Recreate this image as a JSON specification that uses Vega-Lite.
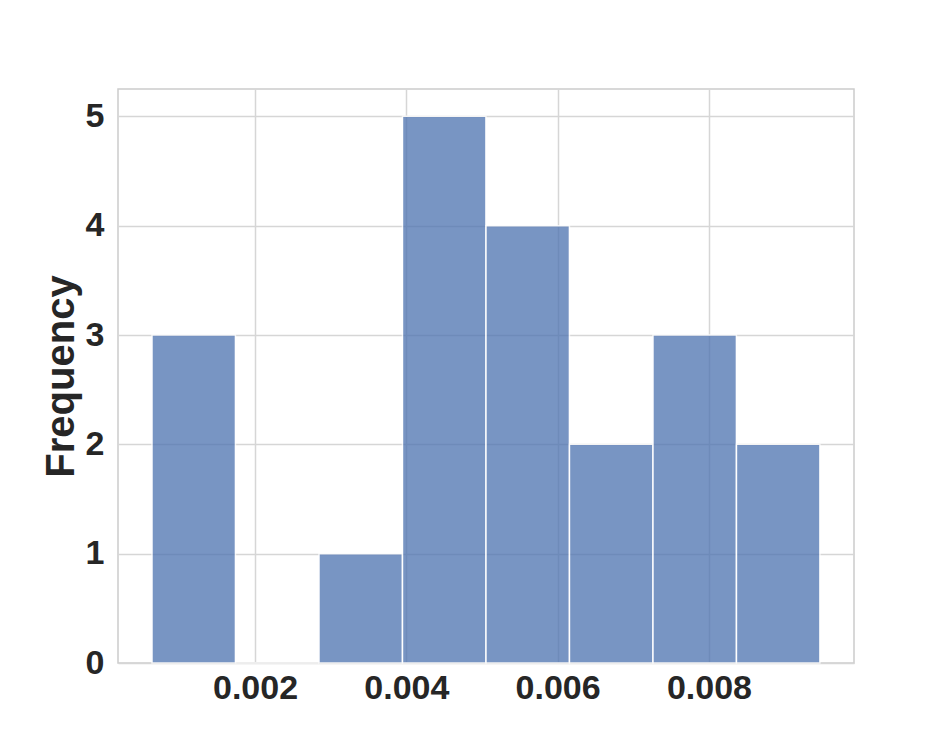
{
  "$schema": "https://vega.github.io/schema/vega-lite/v6.json",
  "width": 736,
  "height": 574,
  "autosize": "none",
  "padding": {"left": 118, "top": 89, "right": 95, "bottom": 83},
  "background": "white",
  "config": {
    "view": {"stroke": "#cccccc", "strokeWidth": 1.5},
    "font": "Liberation Sans"
  },
  "data": {
    "values": [
      {"start": 0.000638, "end": 0.0017416, "count": 3},
      {"start": 0.0017416, "end": 0.0028452, "count": 0},
      {"start": 0.0028452, "end": 0.0039488, "count": 1},
      {"start": 0.0039488, "end": 0.0050524, "count": 5},
      {"start": 0.0050524, "end": 0.006156, "count": 4},
      {"start": 0.006156, "end": 0.0072596, "count": 2},
      {"start": 0.0072596, "end": 0.0083632, "count": 3},
      {"start": 0.0083632, "end": 0.0094668, "count": 2}
    ]
  },
  "mark": {"type": "bar", "color": "#4c72b0", "opacity": 0.75, "stroke": "white", "strokeWidth": 1.5, "strokeOpacity": 1},
  "encoding": {
    "x": {
      "field": "start", "type": "quantitative",
      "scale": {"domain": [0.000189, 0.009917], "nice": false, "zero": false},
      "axis": {
        "values": [0.002, 0.004, 0.006, 0.008], "format": ".3f", "title": null,
        "grid": true, "gridColor": "#d6d6d6", "gridWidth": 1.5,
        "domain": false, "ticks": false,
        "labelFont": "Liberation Sans", "labelFontWeight": "bold", "labelFontSize": 34,
        "labelColor": "#262626", "labelPadding": 8
      }
    },
    "x2": {"field": "end"},
    "y": {
      "field": "count", "type": "quantitative",
      "scale": {"domain": [0, 5.25], "nice": false},
      "axis": {
        "values": [0, 1, 2, 3, 4, 5], "title": "Frequency",
        "grid": true, "gridColor": "#d6d6d6", "gridWidth": 1.5,
        "domain": false, "ticks": false,
        "labelFont": "Liberation Sans", "labelFontWeight": "bold", "labelFontSize": 34,
        "labelColor": "#262626", "labelPadding": 14,
        "titleFont": "Liberation Sans", "titleFontWeight": "bold", "titleFontSize": 40,
        "titleColor": "#262626", "titlePadding": 4
      }
    },
    "y2": {"datum": 0}
  }
}
